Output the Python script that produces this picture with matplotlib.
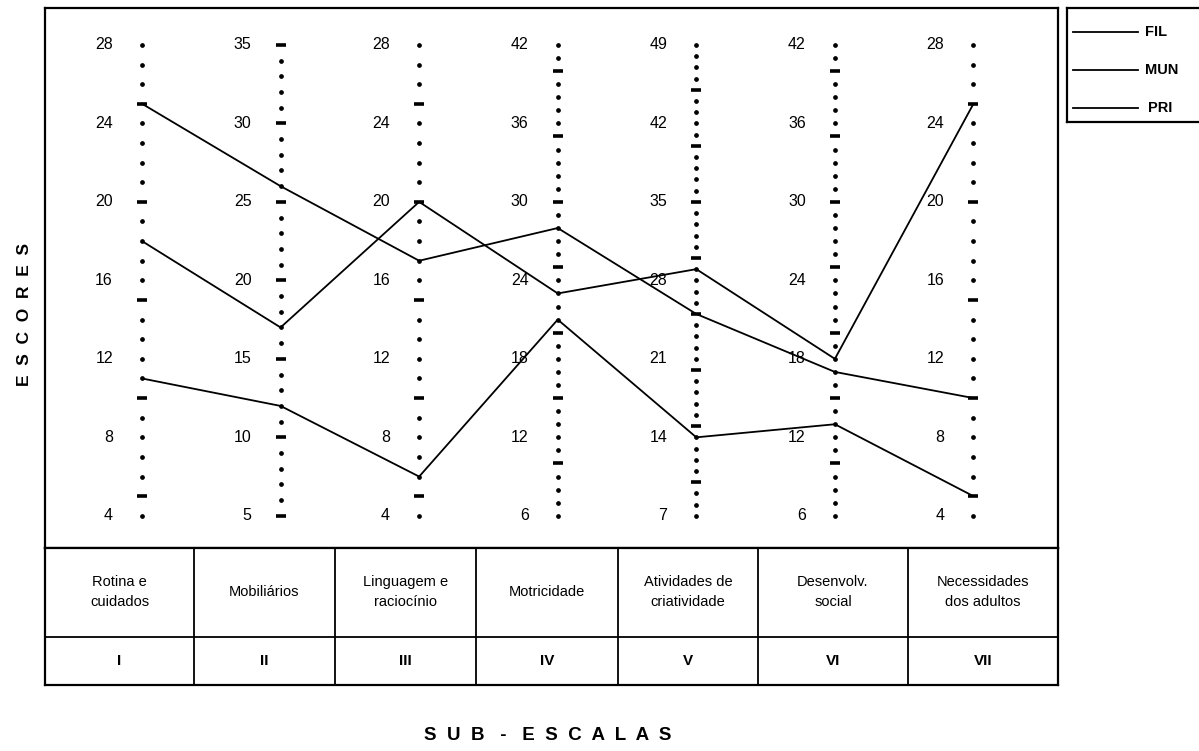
import numpy as np
import matplotlib
matplotlib.use("Agg")
import matplotlib.pyplot as plt

plt.rcParams['font.family'] = ['Liberation Sans', 'DejaVu Sans']

# sub-scales (columns of the table under the chart)
subscales = ["Rotina e\ncuidados", "Mobiliários", "Linguagem e\nraciocínio", "Motricidade",
             "Atividades de\ncriatividade", "Desenvolv.\nsocial", "Necessidades\ndos adultos"]
roman = ["I", "II", "III", "IV", "V", "VI", "VII"]

# each vertical axis has its own scale: min + step*k, k = 0..6
axis_min = [4, 5, 4, 6, 7, 6, 4]
axis_step = [4, 5, 4, 6, 7, 6, 4]

series_names = ["FIL", "MUN", "PRI"]
fil = [25, 26, 17, 28, 25, 17, 10]
mun = [18, 17, 20, 23, 29, 18, 25]
pri = [11, 12, 6, 21, 14, 13, 5]
series = [fil, mun, pri]

W, H = 1199, 751


def px_axes(left, top, right, bottom):
    return fig.add_axes([left / W, 1 - bottom / H, (right - left) / W, (bottom - top) / H])


def level(i, v):
    return (v - axis_min[i]) / axis_step[i]


fig = plt.figure(figsize=(W / 100, H / 100), dpi=100)

# main chart box
ax = px_axes(45, 8, 1058, 548)
ax.set_xlim(-0.70, 6.61)
ax.set_ylim(-0.41, 6.47)
ax.set_xticks([])
ax.set_yticks([])
for s in ax.spines.values():
    s.set_linewidth(1.6)

n = len(axis_min)
for i in range(n):
    vals = np.arange(axis_min[i], axis_min[i] + 6 * axis_step[i] + 1)
    dots = [level(i, v) for v in vals if v % 5 != 0]
    dashes = [level(i, v) for v in vals if v % 5 == 0]
    ax.plot([i] * len(dots), dots, ls="none", marker="o", ms=2.4, color="black")
    ax.plot([i] * len(dashes), dashes, ls="none", marker="_", ms=7, mew=2.6, color="black")
    for k in range(7):
        t = axis_min[i] + k * axis_step[i]
        ax.text(i - 0.21, k, str(t), ha="right", va="center", fontsize=11.5)

xs = np.arange(n)
for vals in series:
    ax.plot(xs, [level(i, v) for i, v in enumerate(vals)], color="black", lw=1.3)

# table of sub-scales
tab = px_axes(45, 548, 1058, 685)
tab.set_xlim(45, 1058)
tab.set_ylim(685, 548)
tab.set_xticks([])
tab.set_yticks([])
for s in tab.spines.values():
    s.set_linewidth(1.6)
col_edges = [45, 194, 335, 476, 618, 758, 908, 1058]
for x in col_edges[1:-1]:
    tab.axvline(x, color="black", lw=1.3)
tab.axhline(637, color="black", lw=1.3)
for j in range(n):
    cx = (col_edges[j] + col_edges[j + 1]) / 2
    tab.text(cx, 592, subscales[j], ha="center", va="center", fontsize=10.5, linespacing=1.5)
    tab.text(cx, 661, roman[j], ha="center", va="center", fontsize=11, fontweight="bold")

# legend box, cut by the right edge of the page
leg = px_axes(1067, 8, 1205, 122)
leg.set_xlim(1067, 1205)
leg.set_ylim(122, 8)
leg.set_xticks([])
leg.set_yticks([])
leg.spines["right"].set_visible(False)
for s in leg.spines.values():
    s.set_linewidth(1.6)
leg_y = [32, 70, 108]
for name, y in zip(series_names, leg_y):
    leg.plot([1073, 1138], [y, y], color="black", lw=1.3)
    leg.text(1145 if name != "PRI" else 1148, y, name, ha="left", va="center",
             fontsize=10.5, fontweight="bold")

fig.text(25 / W, 1 - 315 / H, "E  S  C  O  R  E  S", rotation=90, ha="center", va="center",
         fontsize=12.5, fontweight="bold")
fig.text(548 / W, 1 - 735 / H, "S  U  B   -   E  S  C  A  L  A  S", ha="center", va="center",
         fontsize=13.5, fontweight="bold")

fig.savefig("out.png", dpi=100)
